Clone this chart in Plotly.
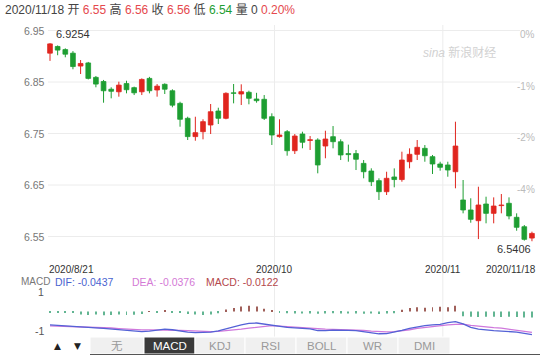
import plotly.graph_objects as go

# ---------------- data ----------------
opens = [6.9060, 6.9190, 6.9130, 6.9060, 6.8810, 6.8870, 6.8590, 6.8510, 6.8360, 6.8310,
         6.8470, 6.8390, 6.8310, 6.8570, 6.8345, 6.8455, 6.8330, 6.8086, 6.7795, 6.7440,
         6.7535, 6.7665, 6.7937, 6.7795, 6.8290, 6.8267, 6.8300, 6.8170, 6.8164, 6.7826,
         6.7440, 6.7535, 6.7166, 6.7490, 6.7365, 6.7374, 6.7257, 6.7438, 6.7340, 6.7110,
         6.7110, 6.6920, 6.6772, 6.6584, 6.6370, 6.6656, 6.6606, 6.6952, 6.7096, 6.7212,
         6.7050, 6.6908, 6.6889, 6.6758, 6.6209, 6.6015, 6.5807, 6.6131, 6.5950, 6.6100,
         6.6145, 6.5873, 6.5690, 6.5470]
highs = [6.9254, 6.9210, 6.9154, 6.9100, 6.8927, 6.8890, 6.8617, 6.8540, 6.8397, 6.8506,
         6.8525, 6.8410, 6.8570, 6.8600, 6.8460, 6.8474, 6.8358, 6.8117, 6.7826, 6.7826,
         6.7776, 6.8073, 6.8001, 6.8300, 6.8461, 6.8455, 6.8331, 6.8290, 6.8247, 6.7892,
         6.7776, 6.7567, 6.7490, 6.7535, 6.7451, 6.7407, 6.7554, 6.7645, 6.7387, 6.7284,
         6.7180, 6.6985, 6.6824, 6.6630, 6.6758, 6.6823, 6.7147, 6.7212, 6.7374, 6.7276,
         6.7083, 6.6952, 6.6952, 6.7729, 6.6597, 6.6242, 6.6467, 6.6273, 6.6260, 6.6325,
         6.6260, 6.5950, 6.5723, 6.5594]
lows = [6.8910, 6.9020, 6.8980, 6.8747, 6.8655, 6.8550, 6.8397, 6.8098, 6.8183, 6.8215,
        6.8280, 6.8247, 6.8247, 6.8280, 6.8215, 6.8267, 6.8009, 6.7632, 6.7374, 6.7360,
        6.7387, 6.7490, 6.7684, 6.7776, 6.8086, 6.8053, 6.8067, 6.8098, 6.7762, 6.7277,
        6.7420, 6.7069, 6.7102, 6.7213, 6.7180, 6.6727, 6.7019, 6.7212, 6.6985, 6.6953,
        6.6791, 6.6630, 6.6480, 6.6209, 6.6306, 6.6455, 6.6564, 6.6824, 6.6985, 6.6952,
        6.6714, 6.6778, 6.6661, 6.6436, 6.5950, 6.5768, 6.5450, 6.5756, 6.5756, 6.5950,
        6.5834, 6.5612, 6.5420, 6.5406]
closes = [6.9240, 6.9120, 6.9040, 6.8800, 6.8860, 6.8570, 6.8460, 6.8330, 6.8320, 6.8440,
          6.8350, 6.8290, 6.8550, 6.8330, 6.8420, 6.8360, 6.8050, 6.7776, 6.7440, 6.7516,
          6.7730, 6.7923, 6.7795, 6.8280, 6.8280, 6.8312, 6.8184, 6.8137, 6.7795, 6.7471,
          6.7471, 6.7166, 6.7451, 6.7330, 6.7380, 6.6889, 6.7393, 6.7341, 6.7083, 6.7090,
          6.7000, 6.6758, 6.6564, 6.6370, 6.6630, 6.6606, 6.6985, 6.7096, 6.7232, 6.7068,
          6.6908, 6.6844, 6.6791, 6.7257, 6.6015, 6.5834, 6.6112, 6.5950, 6.6092, 6.6112,
          6.5899, 6.5679, 6.5445, 6.5560]

# MACD panel values (read in the panel's own display units)
dif = [-0.70, -0.72, -0.74, -0.77, -0.80, -0.83, -0.85, -0.88, -0.92, -0.96,
       -1.00, -1.03, -1.05, -1.02, -0.97, -0.92, -0.95, -1.02, -1.07, -1.10,
       -1.10, -1.07, -1.01, -0.92, -0.80, -0.70, -0.62, -0.60, -0.66, -0.73,
       -0.79, -0.83, -0.85, -0.87, -0.90, -0.99, -1.00, -0.97, -0.96, -0.98,
       -1.00, -1.05, -1.11, -1.16, -1.15, -1.08, -0.98, -0.88, -0.80, -0.74,
       -0.70, -0.67, -0.58, -0.53, -0.65, -0.83, -0.92, -0.97, -1.00, -1.02,
       -1.04, -1.07, -1.14, -1.21]
dea = [-0.75, -0.76, -0.77, -0.78, -0.80, -0.81, -0.81, -0.83, -0.86, -0.89,
       -0.92, -0.95, -0.96, -0.96, -0.96, -0.96, -0.97, -0.98, -1.00, -1.02,
       -1.04, -1.05, -1.04, -1.01, -0.97, -0.92, -0.87, -0.83, -0.77, -0.74,
       -0.76, -0.79, -0.83, -0.86, -0.89, -0.91, -0.92, -0.93, -0.94, -0.95,
       -0.96, -0.99, -1.02, -1.05, -1.06, -1.05, -1.01, -0.95, -0.88, -0.83,
       -0.79, -0.75, -0.70, -0.67, -0.66, -0.72, -0.77, -0.81, -0.84, -0.87,
       -0.92, -0.97, -1.03, -1.09]
macd_hist = [-0.05, -0.06, -0.06, -0.07, -0.16, -0.18, -0.16, -0.20, -0.18, -0.16,
             -0.18, -0.17, -0.13, 0.02, -0.04, 0.03, -0.03, -0.05, -0.13, -0.16,
             -0.18, -0.16, -0.09, 0.10, 0.18, 0.26, 0.30, 0.26, 0.14, 0.04,
             -0.03, -0.09, -0.10, -0.11, -0.10, -0.12, -0.10, -0.09, -0.10, -0.11,
             -0.10, -0.12, -0.11, -0.13, -0.10, -0.09, 0.09, 0.18, 0.22, 0.20,
             0.22, 0.25, 0.22, 0.30, -0.25, -0.27, -0.29, -0.27, -0.27, -0.29,
             -0.27, -0.29, -0.31, -0.31]

price_ticks = [6.95, 6.85, 6.75, 6.65, 6.55]
pct_labels = ["0%", "-1%", "-2%", "-4%"]
date_labels = ["2020/8/21", "2020/10", "2020/11", "2020/11/18"]
date_idx = [0, 29, 51, 63]
macd_ticks = [1, -1]
tabs = ["无", "MACD", "KDJ", "RSI", "BOLL", "WR", "DMI"]
header_date = "2020/11/18"
header_vals = {"开": "6.55", "高": "6.56", "收": "6.56", "低": "6.54", "量": "0"}
header_chg = "0.20%"
legend_vals = {"DIF": "-0.0437", "DEA": "-0.0376", "MACD": "-0.0122"}

# ---------------- styling ----------------
W, H = 554, 355
RED = "#e0261f"
GREEN = "#1e9e32"
GRID = "#ececec"
FONT = "Liberation Sans, Noto Sans CJK SC, sans-serif"
X0, DX = 50, 7.65  # pixel of first candle, pixel per candle


def px(x):
    return x / W


def py(y):
    return 1 - y / H


n = len(opens)
idx = list(range(n))
up = [c >= o for o, c in zip(opens, closes)]

fig = go.Figure()

# wicks
for flag, col in ((True, RED), (False, GREEN)):
    xs, ys = [], []
    for i in idx:
        if up[i] == flag:
            xs += [i, i, None]
            ys += [lows[i], highs[i], None]
    fig.add_trace(go.Scatter(x=xs, y=ys, mode="lines", line=dict(color=col, width=1),
                             hoverinfo="skip", showlegend=False))
# bodies
for flag, col in ((True, RED), (False, GREEN)):
    xs = [i for i in idx if up[i] == flag]
    base = [min(opens[i], closes[i]) for i in xs]
    hgt = [abs(closes[i] - opens[i]) for i in xs]
    fig.add_trace(go.Bar(x=xs, y=hgt, base=base, width=0.62,
                         marker=dict(color=col, line=dict(color=col, width=0.8)),
                         hoverinfo="skip", showlegend=False))

# MACD histogram
fig.add_trace(go.Bar(x=idx, y=macd_hist, width=0.13, yaxis="y2",
                     marker=dict(color=["#a0605a" if v > 0 else "#62b592" for v in macd_hist],
                                 line=dict(width=0)),
                     hoverinfo="skip", showlegend=False))
fig.add_trace(go.Scatter(x=idx, y=dea, yaxis="y2", mode="lines",
                         line=dict(color="#cf78dc", width=1.3), hoverinfo="skip", showlegend=False))
fig.add_trace(go.Scatter(x=idx, y=dif, yaxis="y2", mode="lines",
                         line=dict(color="#5462d6", width=1.3), hoverinfo="skip", showlegend=False))

shapes = []
annotations = []

# horizontal grid
for p in price_ticks:
    shapes.append(dict(type="line", xref="paper", yref="y", x0=px(48), x1=px(520), y0=p, y1=p,
                       line=dict(color=GRID, width=1), layer="below"))
    annotations.append(dict(xref="paper", yref="y", x=px(47), y=p, text=f"{p:.2f}",
                            xanchor="right", yanchor="middle", showarrow=False,
                            font=dict(family=FONT, size=10.5, color="#777")))
# percent labels on the right
for lab, p in zip(pct_labels, price_ticks):
    annotations.append(dict(xref="paper", yref="y", x=px(537), y=p, yshift=-4, text=lab,
                            xanchor="right", yanchor="middle", showarrow=False,
                            font=dict(family=FONT, size=10, color="#bbbbbb")))
# vertical month grid
for i in date_idx[1:3]:
    shapes.append(dict(type="line", xref="x", yref="paper", x0=i + 0.35, x1=i + 0.35,
                       y0=py(337), y1=py(25), line=dict(color=GRID, width=1), layer="below"))
# date labels
anchors = ["left", "center", "center", "right"]
shifts = [-3, 3, 3, 6]
for lab, i, a, s in zip(date_labels, date_idx, anchors, shifts):
    annotations.append(dict(xref="x", yref="paper", x=i, xshift=s, y=py(269.5), text=lab,
                            xanchor=a, yanchor="middle", showarrow=False,
                            font=dict(family=FONT, size=10, color="#333")))

# max / min labels
imax = max(idx, key=lambda i: highs[i])
imin = min(idx, key=lambda i: lows[i])
annotations.append(dict(xref="x", yref="y", x=imax, xshift=4, y=highs[imax], yshift=9,
                        text=f"{highs[imax]:.4f}", xanchor="left", yanchor="middle",
                        showarrow=False, font=dict(family=FONT, size=11, color="#333")))
annotations.append(dict(xref="x", yref="y", x=imin, xshift=1, y=lows[imin], yshift=-8,
                        text=f"{lows[imin]:.4f}", xanchor="right", yanchor="middle",
                        showarrow=False, font=dict(family=FONT, size=11, color="#333"),
                        bgcolor="rgba(255,255,255,0.85)"))

# header
def span(t, c):
    return f"<span style='color:{c}'>{t}</span>"

hdr = header_date
for k, v in header_vals.items():
    if k == "量":
        hdr += f" {k} {v}"
    else:
        col = GREEN if k == "低" else "#e5484d"
        hdr += f" {k} " + span(v, col)
hdr += " " + span(header_chg, "#e5484d")
annotations.append(dict(xref="paper", yref="paper", x=px(3), y=py(10), text=hdr,
                        xanchor="left", yanchor="middle", showarrow=False,
                        font=dict(family=FONT, size=12, color="#444")))

# watermark
annotations.append(dict(xref="paper", yref="paper", x=px(459), y=py(52),
                        text="<i>sina</i> 新浪财经", xanchor="center", yanchor="middle",
                        showarrow=False, font=dict(family=FONT, size=12, color="#d2d2d2")))

# MACD legend
annotations.append(dict(xref="paper", yref="paper", x=px(19), y=py(281.5), text="MACD",
                        xanchor="left", yanchor="middle", showarrow=False,
                        font=dict(family=FONT, size=10, color="#777")))
leg_x = {"DIF": 53, "DEA": 130, "MACD": 204}
leg_c = {"DIF": "#4a63d0", "DEA": "#d47ad6", "MACD": "#b4484c"}
for k, v in legend_vals.items():
    annotations.append(dict(xref="paper", yref="paper", x=px(leg_x[k]), y=py(281.5),
                            text=f"{k}: {v}", xanchor="left", yanchor="middle",
                            showarrow=False, font=dict(family=FONT, size=10.5, color=leg_c[k])))
for t in macd_ticks:
    annotations.append(dict(xref="paper", yref="y2", x=px(46), y=t, text=str(t),
                            xanchor="right", yanchor="middle", showarrow=False,
                            font=dict(family=FONT, size=10.5, color="#555")))

# bottom tabs
edges = [90, 144, 195, 245, 296, 347, 398, 450]
for j, lab in enumerate(tabs):
    active = lab == "MACD"
    shapes.append(dict(type="rect", xref="paper", yref="paper", x0=px(edges[j]), x1=px(edges[j + 1]),
                       y0=py(354), y1=py(337), fillcolor="#3a3a3a" if active else "#f0f0f0",
                       line=dict(color="#ffffff", width=1), layer="above"))
    annotations.append(dict(xref="paper", yref="paper", x=px((edges[j] + edges[j + 1]) / 2),
                            y=py(346), text=lab, xanchor="center", yanchor="middle",
                            showarrow=False,
                            font=dict(family=FONT, size=11.5, color="#ffffff" if active else "#999")))
shapes.append(dict(type="line", xref="paper", yref="paper", x0=px(90), x1=px(540),
                   y0=py(354.5), y1=py(354.5), line=dict(color="#555", width=1.2), layer="above"))
for ax_, t in ((57, "▲"), (77, "▼")):
    annotations.append(dict(xref="paper", yref="paper", x=px(ax_), y=py(346), text=t,
                            xanchor="center", yanchor="middle", showarrow=False,
                            font=dict(family="DejaVu Sans", size=9, color="#222")))

fig.update_layout(
    width=W, height=H, margin=dict(l=0, r=0, t=0, b=0),
    paper_bgcolor="white", plot_bgcolor="white",
    barmode="overlay", hovermode=False, showlegend=False,
    xaxis=dict(domain=[0, 1], range=[-X0 / DX, (W - X0) / DX], visible=False, fixedrange=True),
    yaxis=dict(domain=[py(262), py(20)], range=[6.5005, 6.9704], visible=False, fixedrange=True),
    yaxis2=dict(domain=[py(337), py(285)], range=[-1.328, 1.380], visible=False,
                anchor="x", fixedrange=True),
    shapes=shapes, annotations=annotations,
)

fig.write_html("out.html", config={"displayModeBar": False})
